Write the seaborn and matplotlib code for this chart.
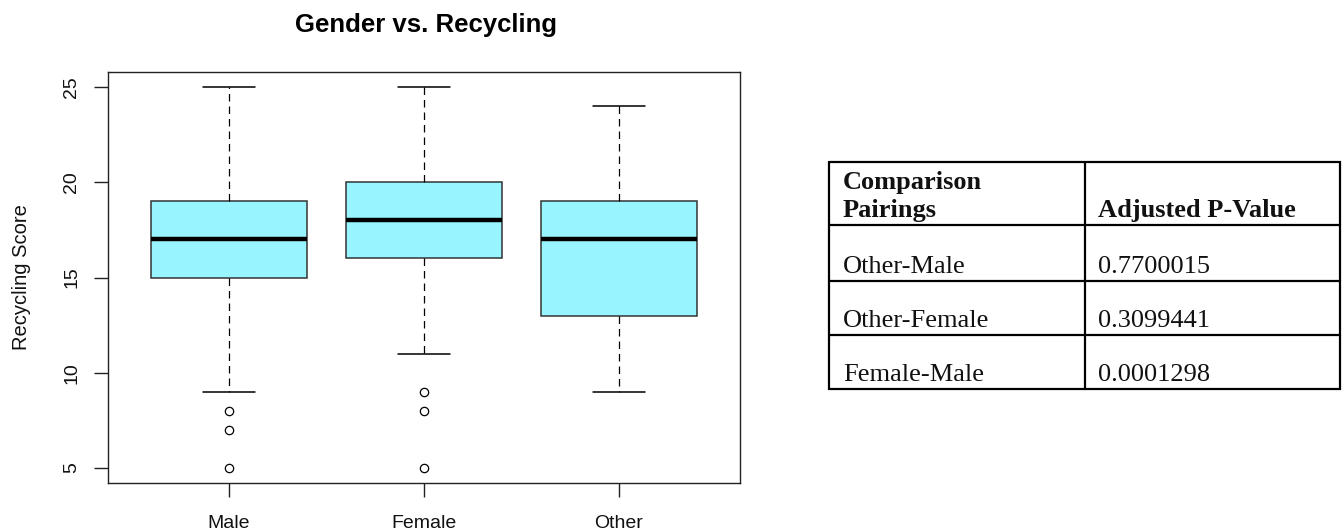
import numpy as np
import pandas as pd
import matplotlib
matplotlib.use("Agg")
import matplotlib.pyplot as plt
import seaborn as sns

# ---- data ----
categories = ["Male", "Female", "Other"]
male_scores = [5, 7, 8, 9, 15, 15, 16, 16, 17, 17, 18, 18, 19, 20, 22, 24, 25]
female_scores = [5, 8, 9, 11, 16, 16, 17, 17, 18, 18, 19, 19, 20, 21, 22, 24, 25]
other_scores = [9, 10, 11, 12, 13, 14, 15, 16, 17, 17, 18, 18, 19, 20, 21, 22, 24]
y_ticks = [5, 10, 15, 20, 25]

table_header_left = ["Comparison", "Pairings"]
table_header_right = "Adjusted P-Value"
pairings = ["Other-Male", "Other-Female", "Female-Male"]
p_values = ["0.7700015", "0.3099441", "0.0001298"]

df = pd.DataFrame({
    "Gender": (["Male"] * len(male_scores) + ["Female"] * len(female_scores)
               + ["Other"] * len(other_scores)),
    "Score": male_scores + female_scores + other_scores,
})

sns.set_style("white")
plt.rcParams["font.family"] = ["Liberation Sans", "DejaVu Sans"]
plt.rcParams["text.color"] = "black"
plt.rcParams["axes.labelcolor"] = "black"

W, H = 1343, 531
fig = plt.figure(figsize=(W / 100, H / 100), dpi=100)
ax = fig.add_axes([108 / W, 1 - 483 / H, (740 - 108) / W, (483 - 72) / H])

sns.boxplot(
    data=df, x="Gender", y="Score", order=categories, ax=ax,
    color="#98F5FF", saturation=1, width=0.8, whis=1.5,
    linecolor="#333333", linewidth=1.1,
    medianprops=dict(color="black", linewidth=3.2),
    whiskerprops=dict(color="black", linestyle=(0, (6, 4)), linewidth=0.9),
    capprops=dict(color="black", linewidth=1.1),
    flierprops=dict(marker="o", markerfacecolor="none", markeredgecolor="black",
                    markersize=6, markeredgewidth=0.9),
    capwidths=0.27,
)

ax.set_xlim(-0.62, 2.62)
ax.set_ylim(4.2, 25.8)
ax.set_yticks(y_ticks)
ax.set_yticklabels([str(t) for t in y_ticks], rotation=90, va="center", fontsize=14)
ax.tick_params(axis="both", direction="out", length=10, width=1, colors="#222222",
               labelcolor="#111111", left=True, bottom=True)
ax.tick_params(axis="x", labelsize=14, pad=13)
ax.tick_params(axis="y", pad=10)
for s in ax.spines.values():
    s.set_visible(True)
    s.set_color("#222222")
    s.set_linewidth(1)
ax.set_xlabel("")
ax.set_ylabel("Recycling Score", fontsize=14.5, labelpad=23, color="#111111")
fig.text(426 / W, 1 - 32 / H, "Gender vs. Recycling", ha="center", va="baseline",
         fontsize=18.5, fontweight="bold", color="black")

# ---- table ----
tx0, ty0, tx1, ty1 = 829, 162, 1340, 389
tax = fig.add_axes([tx0 / W, 1 - ty1 / H, (tx1 - tx0) / W, (ty1 - ty0) / H])
tw, th = tx1 - tx0, ty1 - ty0
tax.set_xlim(0, tw)
tax.set_ylim(th, 0)
tax.axis("off")
col_split = 1085 - tx0
row_lines = [63, 119, 173]
lw = 1.6
tax.plot([0, tw, tw, 0, 0], [0, 0, th, th, 0], color="black", lw=lw, clip_on=False,
         solid_joinstyle="miter")
tax.plot([col_split, col_split], [0, th], color="black", lw=lw, clip_on=False)
for r in row_lines:
    tax.plot([0, tw], [r, r], color="black", lw=lw, clip_on=False)

serif = ["Liberation Serif", "DejaVu Serif"]
fs = 19
tax.text(14, 27, table_header_left[0], family=serif, fontsize=fs, fontweight="bold",
         ha="left", va="baseline", color="#111111")
tax.text(14, 55, table_header_left[1], family=serif, fontsize=fs, fontweight="bold",
         ha="left", va="baseline", color="#111111")
tax.text(col_split + 13, 55, table_header_right, family=serif, fontsize=fs,
         fontweight="bold", ha="left", va="baseline", color="#111111")
baselines = [111, 165, 219]
for name, p, b in zip(pairings, p_values, baselines):
    tax.text(14, b, name, family=serif, fontsize=fs, ha="left", va="baseline",
             color="#111111")
    tax.text(col_split + 13, b, p, family=serif, fontsize=fs, ha="left",
             va="baseline", color="#111111")

fig.savefig("out.png", dpi=100)
